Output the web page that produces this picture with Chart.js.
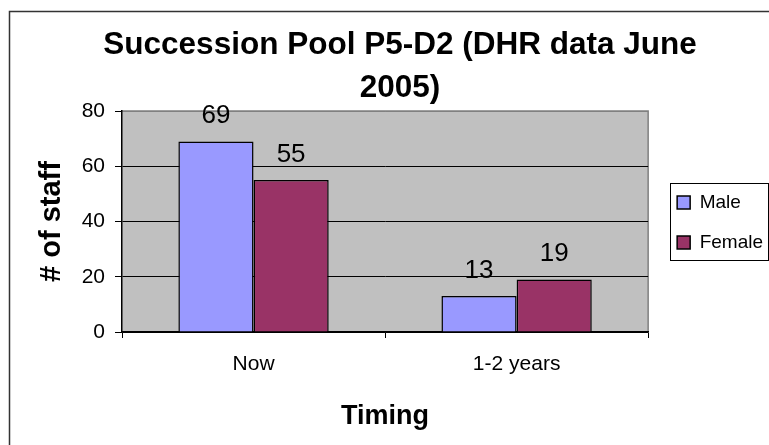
<!DOCTYPE html>
<html>
<head>
<meta charset="utf-8">
<script src="https://cdn.jsdelivr.net/npm/chart.js@4/dist/chart.umd.min.js"></script>
<style>
  html, body { margin: 0; padding: 0; background: #fff; }
  #wrap { width: 769px; height: 445px; }
</style>
</head>
<body>
<div id="wrap"><canvas id="bar-chart" width="769" height="445"></canvas></div>
<script>
const titleLines = ['Succession Pool P5-D2 (DHR data June', '2005)'];
const categories = ['Now', '1-2 years'];
const seriesNames = ['Male', 'Female'];
const maleValues = [69, 13];
const femaleValues = [55, 19];
const yMin = 0, yMax = 80, yStep = 20;

const font = "'Liberation Sans', Arial, sans-serif";

// gray plot area + outer frame
const backdrop = {
  id: 'backdrop',
  beforeDraw(chart) {
    const ctx = chart.ctx, a = chart.chartArea;
    ctx.save();
    ctx.strokeStyle = '#333';
    ctx.lineWidth = 1.5;
    ctx.strokeRect(9.5, 11.5, 900, 600);
    ctx.fillStyle = '#C0C0C0';
    ctx.fillRect(a.left, a.top, a.right - a.left, a.bottom - a.top);
    ctx.strokeStyle = '#808080';
    ctx.lineWidth = 1.5;
    ctx.beginPath();
    ctx.moveTo(a.left, a.top);
    ctx.lineTo(a.right, a.top);
    ctx.lineTo(a.right, a.bottom);
    ctx.stroke();
    ctx.restore();
  }
};

// numbers over the bars and a box round the legend
const extras = {
  id: 'extras',
  afterDatasetsDraw(chart) {
    const ctx = chart.ctx;
    ctx.save();
    ctx.font = '26px ' + font;
    ctx.fillStyle = '#000';
    ctx.textAlign = 'center';
    ctx.textBaseline = 'alphabetic';
    chart.data.datasets.forEach((ds, i) => {
      chart.getDatasetMeta(i).data.forEach((bar, j) => {
        ctx.fillText(ds.data[j], bar.x, bar.y - 18.5);
      });
    });
    ctx.restore();
  },
  afterDraw(chart) {
    const hb = chart.legend.legendHitBoxes;
    if (!hb || !hb.length) return;
    const ctx = chart.ctx;
    const first = hb[0], last = hb[hb.length - 1];
    const left = first.left - 7;
    const top = first.top - 10;
    const right = 768;
    const bottom = last.top + last.height + 8;
    ctx.save();
    ctx.strokeStyle = '#000';
    ctx.lineWidth = 1;
    ctx.strokeRect(Math.round(left) + 0.5, Math.round(top) + 0.5, right - Math.round(left), bottom - Math.round(top));
    ctx.restore();
  }
};

new Chart(document.getElementById('bar-chart'), {
  type: 'bar',
  data: {
    labels: categories,
    datasets: [
      {
        label: seriesNames[0],
        data: maleValues,
        backgroundColor: '#9999FF',
        borderColor: '#000',
        borderWidth: 1.5,
        categoryPercentage: 0.5714,
        barPercentage: 1
      },
      {
        label: seriesNames[1],
        data: femaleValues,
        backgroundColor: '#993366',
        borderColor: '#000',
        borderWidth: 1.5,
        categoryPercentage: 0.5714,
        barPercentage: 1
      }
    ]
  },
  options: {
    responsive: false,
    animation: false,
    layout: { padding: { left: 27, right: -4, top: 0, bottom: 0 } },
    plugins: {
      tooltip: { enabled: false },
      title: {
        display: true,
        text: titleLines,
        color: '#000',
        font: { family: font, size: 31.5, weight: 'bold', lineHeight: 1.356 },
        padding: { top: 24.25, bottom: 1.35 }
      },
      legend: {
        position: 'right',
        labels: {
          color: '#000',
          font: { family: font, size: 19 },
          boxWidth: 13,
          boxHeight: 13,
          padding: 21
        }
      }
    },
    scales: {
      x: {
        offset: true,
        grid: { display: true, drawOnChartArea: false, offset: true, tickLength: 6, tickColor: '#000', tickWidth: 1 },
        border: { display: true, color: '#000', width: 1.5 },
        ticks: { color: '#000', font: { family: font, size: 21 }, padding: 14 },
        title: {
          display: true,
          text: 'Timing',
          color: '#000',
          font: { family: font, size: 27, weight: 'bold' },
          padding: { top: 0, bottom: 12 }
        },
        afterFit(s) { s.height = 113; }
      },
      y: {
        min: yMin,
        max: yMax,
        ticks: { stepSize: yStep, color: '#000', font: { family: font, size: 21 }, padding: 10 },
        grid: {
          color: (c) => (c.tick && c.tick.value === yMax ? '#808080' : '#000'),
          lineWidth: 1,
          tickLength: 7,
          tickColor: '#000'
        },
        border: { display: true, color: '#000', width: 1.5 },
        title: {
          display: true,
          text: '# of staff',
          color: '#000',
          font: { family: font, size: 29, weight: 'bold' },
          padding: { top: 7.6, bottom: 0 }
        },
        afterFit(s) { s.width = 95; }
      },
      gap: {
        type: 'linear',
        position: 'right',
        display: true,
        ticks: { display: false },
        grid: { display: false },
        border: { display: false },
        afterFit(s) { s.width = 8; }
      }
    }
  },
  plugins: [backdrop, extras]
});
</script>
</body>
</html>
